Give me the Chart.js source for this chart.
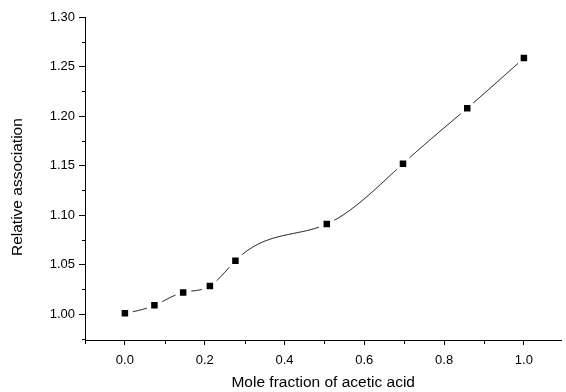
<!DOCTYPE html>
<html>
<head>
<meta charset="utf-8">
<script src="https://cdn.jsdelivr.net/npm/chart.js@4"></script>
<style>
  html, body { margin: 0; padding: 0; background: #fff; }
  #wrap { width: 566px; height: 392px; }
</style>
</head>
<body>
<div id="wrap"><canvas id="chart"></canvas></div>
<script>
// mole fraction of acetic acid vs relative association
const moleFraction = [0.0, 0.074, 0.146, 0.213, 0.277, 0.506, 0.697, 0.858, 1.0];
const relAssoc = [1.001, 1.009, 1.022, 1.0285, 1.054, 1.091, 1.152, 1.208, 1.2585];

const xMajorTicks = [0.0, 0.2, 0.4, 0.6, 0.8, 1.0];
const xMinorTicks = [-0.1, 0.1, 0.3, 0.5, 0.7, 0.9];
const yMajorTicks = [1.00, 1.05, 1.10, 1.15, 1.20, 1.25, 1.30];
const yMinorTicks = [0.975, 1.025, 1.075, 1.125, 1.175, 1.225, 1.275];

const FONT = 'Liberation Sans, Arial, Helvetica, sans-serif';

// natural cubic spline, second derivatives
function splineM(xs, ys) {
    const n = xs.length;
    const m = new Array(n).fill(0);
    const a = [], b = [], c = [], d = [];
    for (let i = 1; i < n - 1; i++) {
        const h0 = xs[i] - xs[i - 1], h1 = xs[i + 1] - xs[i];
        a.push(h0); b.push(2 * (h0 + h1)); c.push(h1);
        d.push(6 * ((ys[i + 1] - ys[i]) / h1 - (ys[i] - ys[i - 1]) / h0));
    }
    const k = b.length;
    for (let i = 1; i < k; i++) {
        const w = a[i] / b[i - 1];
        b[i] -= w * c[i - 1];
        d[i] -= w * d[i - 1];
    }
    const sol = new Array(k);
    for (let i = k - 1; i >= 0; i--) {
        sol[i] = (d[i] - (i < k - 1 ? c[i] * sol[i + 1] : 0)) / b[i];
    }
    for (let i = 0; i < k; i++) m[i + 1] = sol[i];
    return m;
}

function splineAt(xs, ys, m, x) {
    let i = 0;
    while (i < xs.length - 2 && x > xs[i + 1]) i++;
    const h = xs[i + 1] - xs[i];
    const t1 = xs[i + 1] - x, t0 = x - xs[i];
    return m[i] * t1 * t1 * t1 / (6 * h) + m[i + 1] * t0 * t0 * t0 / (6 * h)
        + (ys[i] / h - m[i] * h / 6) * t1 + (ys[i + 1] / h - m[i + 1] * h / 6) * t0;
}

// smooth line through the points, broken near each marker
const splinePlugin = {
    id: 'splineLine',
    beforeDatasetsDraw(chart) {
        const xs = chart.scales.x, ys = chart.scales.y;
        const m = splineM(moleFraction, relAssoc);
        const marks = moleFraction.map((v, i) => [xs.getPixelForValue(v), ys.getPixelForValue(relAssoc[i])]);
        const ctx = chart.ctx;
        ctx.save();
        ctx.strokeStyle = '#000';
        ctx.lineWidth = 1;
        ctx.beginPath();
        let pen = false;
        const steps = 600;
        const x0 = moleFraction[0], x1 = moleFraction[moleFraction.length - 1];
        for (let s = 0; s <= steps; s++) {
            const xv = x0 + (x1 - x0) * s / steps;
            const px = xs.getPixelForValue(xv);
            const py = ys.getPixelForValue(splineAt(moleFraction, relAssoc, m, xv));
            const near = marks.some(p => Math.hypot(p[0] - px, p[1] - py) < 8);
            if (near) { pen = false; continue; }
            if (!pen) { ctx.moveTo(px, py); pen = true; } else ctx.lineTo(px, py);
        }
        ctx.stroke();
        ctx.restore();
    }
};

const minorTickPlugin = {
    id: 'minorTicks',
    afterDraw(chart) {
        const xs = chart.scales.x, ys = chart.scales.y;
        const ctx = chart.ctx;
        ctx.save();
        ctx.strokeStyle = '#000';
        ctx.lineWidth = 1;
        ctx.beginPath();
        const xa = Math.round(chart.chartArea.left) + 0.5;
        yMinorTicks.forEach(v => {
            const py = Math.round(ys.getPixelForValue(v)) + 0.5;
            ctx.moveTo(xa - 3.5, py); ctx.lineTo(xa, py);
        });
        const ya = Math.round(chart.chartArea.bottom) + 0.5;
        xMinorTicks.forEach(v => {
            const px = Math.round(xs.getPixelForValue(v)) + 0.5;
            ctx.moveTo(px, ya); ctx.lineTo(px, ya + 3.5);
        });
        ctx.stroke();
        ctx.restore();
    }
};

new Chart(document.getElementById('chart'), {
    type: 'scatter',
    data: {
        datasets: [{
            data: moleFraction.map((x, i) => ({ x: x, y: relAssoc[i] })),
            showLine: false,
            pointStyle: 'rect',
            pointRadius: 4.6,
            pointHoverRadius: 4.6,
            pointBorderWidth: 0,
            pointBackgroundColor: '#000',
            pointBorderColor: '#000'
        }]
    },
    options: {
        responsive: true,
        maintainAspectRatio: false,
        animation: false,
        layout: { padding: { top: 17, right: 0, left: 0, bottom: 0 } },
        plugins: { legend: { display: false }, tooltip: { enabled: false } },
        scales: {
            x: {
                type: 'linear',
                min: -0.1,
                max: 1.094,
                afterBuildTicks: s => { s.ticks = xMajorTicks.map(v => ({ value: v })); },
                afterFit: s => { s.height = 52; },
                grid: { drawOnChartArea: false, tickLength: 5, tickColor: '#000' },
                border: { display: true, color: '#000', width: 1 },
                ticks: {
                    color: '#000', padding: 8, maxRotation: 0,
                    font: { family: FONT, size: 13 },
                    callback: v => v.toFixed(1)
                },
                title: {
                    display: true, text: 'Mole fraction of acetic acid', color: '#000',
                    font: { family: FONT, size: 15.5 }, padding: { top: 0, bottom: 0 }
                }
            },
            y: {
                type: 'linear',
                min: 0.974,
                max: 1.30,
                afterBuildTicks: s => { s.ticks = yMajorTicks.map(v => ({ value: v })); },
                afterFit: s => { s.width = 85; },
                grid: { drawOnChartArea: false, tickLength: 6, tickColor: '#000' },
                border: { display: true, color: '#000', width: 1 },
                ticks: {
                    color: '#000', padding: 4,
                    font: { family: FONT, size: 13 },
                    callback: v => v.toFixed(2)
                },
                title: {
                    display: true, text: 'Relative association    ', color: '#000',
                    font: { family: FONT, size: 15.5 }, padding: { top: 8, bottom: 0 }
                }
            }
        }
    },
    plugins: [splinePlugin, minorTickPlugin]
});
</script>
</body>
</html>
